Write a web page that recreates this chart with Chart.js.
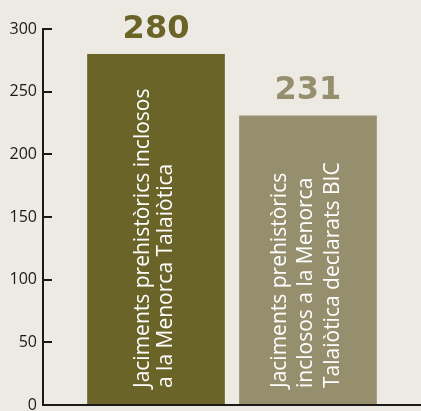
<!DOCTYPE html>
<html>
<head>
<meta charset="utf-8">
<script src="https://cdn.jsdelivr.net/npm/chart.js@4.4.0/dist/chart.umd.min.js"></script>
<style>
  html, body { margin: 0; padding: 0; background: #edeae4; }
  #wrap { width: 421px; height: 411px; }
</style>
</head>
<body>
<div id="wrap"><canvas id="jaciments"></canvas></div>
<script>
// data
const categories = [
  'Jaciments prehistòrics inclosos a la Menorca Talaiòtica',
  'Jaciments prehistòrics inclosos a la Menorca Talaiòtica declarats BIC'
];
const barLines = [
  ['Jaciments prehistòrics inclosos', 'a la Menorca Talaiòtica'],
  ['Jaciments prehistòrics', 'inclosos a la Menorca', 'Talaiòtica declarats BIC']
];
const values = [280, 231];
const yTicks = [0, 50, 100, 150, 200, 250, 300];

// styles
const barColors = ['#6b6428', '#968f6e'];
const lineGaps = [23, 26.5];
const axisColor = '#1a1a1a';

// value on top of each bar + rotated caption inside it
const barText = {
  id: 'barText',
  afterDatasetsDraw(chart) {
    const ctx = chart.ctx;
    chart.data.datasets.forEach((ds, i) => {
      const bar = chart.getDatasetMeta(i).data[0];

      ctx.save();
      ctx.fillStyle = barColors[i];
      ctx.font = 'bold 32px "DejaVu Sans"';
      ctx.textAlign = 'center';
      ctx.textBaseline = 'alphabetic';
      ctx.fillText(String(values[i]), bar.x, bar.y - 16);
      ctx.restore();

      const lines = barLines[i];
      ctx.save();
      ctx.translate(bar.x, bar.base - 16);
      ctx.rotate(-Math.PI / 2);
      ctx.fillStyle = '#ffffff';
      ctx.font = '21px "Open Sans"';
      ctx.textAlign = 'left';
      ctx.textBaseline = 'alphabetic';
      lines.forEach((t, j) => {
        ctx.fillText(t, 0, (j - (lines.length - 1) / 2) * lineGaps[i] + 4.5);
      });
      ctx.restore();
    });
  }
};

const ctx = document.getElementById('jaciments').getContext('2d');

new Chart(ctx, {
  type: 'bar',
  data: {
    labels: [''],
    datasets: categories.map((c, i) => ({
      label: c,
      data: [values[i]],
      backgroundColor: barColors[i],
      categoryPercentage: 0.804,
      barPercentage: 0.906
    }))
  },
  options: {
    responsive: true,
    maintainAspectRatio: false,
    animation: false,
    layout: { padding: { top: 29, right: 0, bottom: 6, left: 0 } },
    plugins: {
      legend: { display: false },
      tooltip: { enabled: false }
    },
    scales: {
      x: {
        grid: { display: false },
        ticks: { display: false },
        border: { display: true, color: axisColor, width: 2 },
        afterFit(scale) {
          scale.height = 0;
          scale.paddingLeft = 0;
          scale.paddingRight = 0;
        }
      },
      y: {
        min: 0,
        max: 300,
        afterBuildTicks(scale) {
          scale.ticks = yTicks.map(v => ({ value: v }));
        },
        afterFit(scale) {
          scale.width = 43;
          scale.paddingTop = 0;
          scale.paddingBottom = 0;
        },
        grid: {
          drawOnChartArea: false,
          drawTicks: true,
          tickLength: -9,
          color: axisColor,
          lineWidth: 2
        },
        border: { display: true, color: axisColor, width: 2 },
        ticks: {
          padding: 15,
          color: axisColor,
          font: { family: '"Open Sans"', size: 16 }
        }
      }
    }
  },
  plugins: [barText]
});
</script>
</body>
</html>
